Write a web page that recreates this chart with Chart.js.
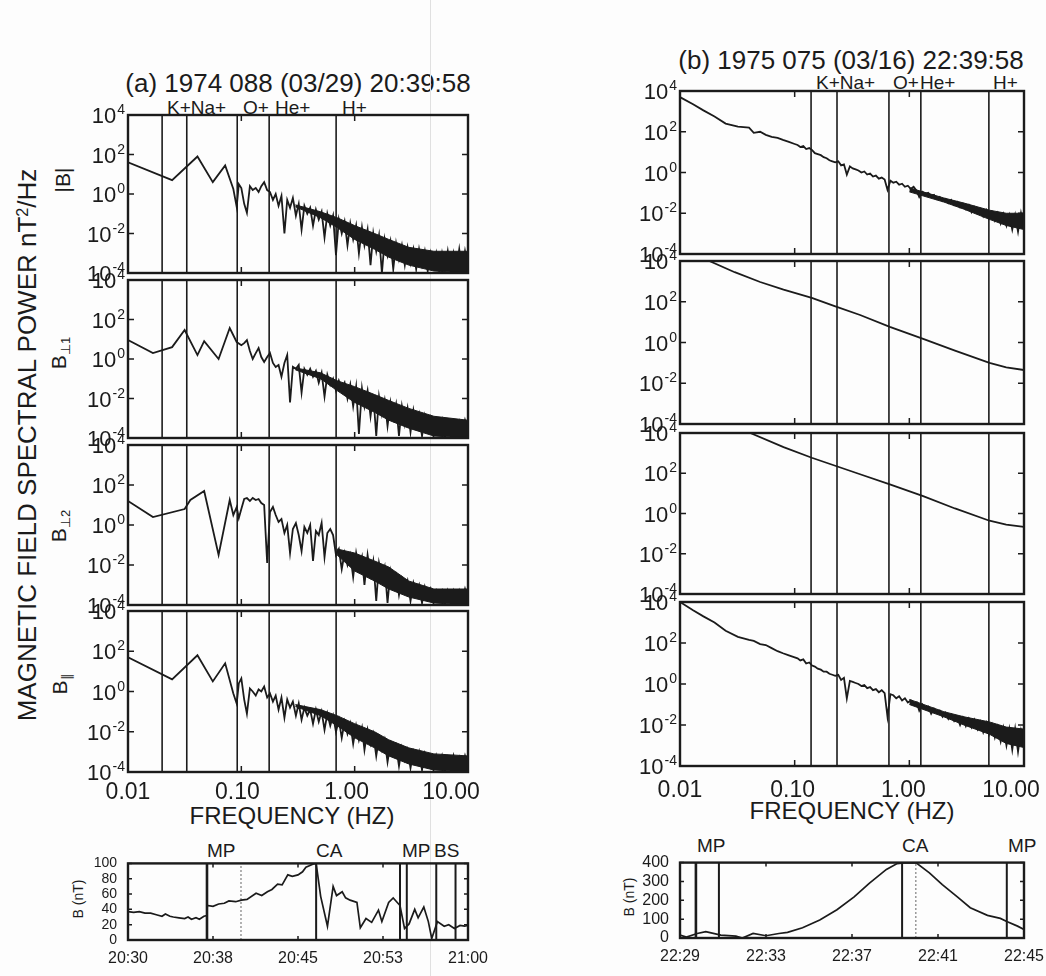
<!DOCTYPE html>
<html>
<head>
<meta charset="utf-8">
<script src="https://cdn.jsdelivr.net/npm/chart.js@4.4.0/dist/chart.umd.min.js"></script>
<style>
  body { margin: 0; width: 1046px; height: 976px; position: relative; overflow: hidden;
         background: #fdfdfd; font-family: "Liberation Sans", Arial, sans-serif; color: #1b1b1b; }
  canvas { position: absolute; }
  .t { position: absolute; white-space: nowrap; line-height: 1; transform: translate(-50%, -50%); }
  .l { position: absolute; white-space: nowrap; line-height: 1; }
  .r { position: absolute; white-space: nowrap; line-height: 1; transform: translate(-50%, -50%) rotate(-90deg); }
  .sup { font-size: 62%; vertical-align: 0.55em; }
  .sub { font-size: 62%; vertical-align: -0.25em; }
</style>
</head>
<body>

<div class="t" style="left:298px;top:83px;font-size:26px">(a) 1974 088 (03/29) 20:39:58</div>
<div class="t" style="left:851px;top:60px;font-size:26px">(b) 1975 075 (03/16) 22:39:58</div>

<div class="l" style="left:167px;top:98px;font-size:19px">K+Na+</div>
<div class="l" style="left:243px;top:98px;font-size:19px">O+</div>
<div class="l" style="left:275px;top:98px;font-size:19px">He+</div>
<div class="l" style="left:342px;top:98px;font-size:19px">H+</div>

<div class="l" style="left:816px;top:73px;font-size:19px">K+Na+</div>
<div class="l" style="left:893px;top:73px;font-size:19px">O+</div>
<div class="l" style="left:920px;top:73px;font-size:19px">He+</div>
<div class="l" style="left:993px;top:73px;font-size:19px">H+</div>

<div class="r" style="left:27px;top:445px;font-size:26px">MAGNETIC FIELD SPECTRAL POWER nT<span class="sup">2</span>/Hz</div>
<div class="r" style="left:62px;top:180px;font-size:21px">|B|</div>
<div class="r" style="left:60px;top:353px;font-size:21px">B<span class="sub">⊥1</span></div>
<div class="r" style="left:60px;top:526px;font-size:21px">B<span class="sub">⊥2</span></div>
<div class="r" style="left:61px;top:684px;font-size:21px">B<span class="sub">∥</span></div>

<div class="t" style="left:292px;top:816px;font-size:24px">FREQUENCY (HZ)</div>
<div class="t" style="left:852px;top:811px;font-size:24px">FREQUENCY (HZ)</div>

<div class="l" style="left:207px;top:841px;font-size:19px">MP</div>
<div class="l" style="left:316px;top:841px;font-size:19px">CA</div>
<div class="l" style="left:402px;top:841px;font-size:19px">MP</div>
<div class="l" style="left:434px;top:841px;font-size:19px">BS</div>
<div class="l" style="left:697px;top:836px;font-size:19px">MP</div>
<div class="l" style="left:902px;top:836px;font-size:19px">CA</div>
<div class="l" style="left:1008px;top:836px;font-size:19px">MP</div>

<div class="r" style="left:78px;top:899px;font-size:14px">B (nT)</div>
<div class="r" style="left:629px;top:897px;font-size:14px">B (nT)</div>

<div style="position:absolute;left:430px;top:0;width:1px;height:976px;background:#e0e0e0"></div>

<script>
// ---- frequency grids (Hz) ----
const HIGH_FREQ = [0.100,0.106,0.112,0.119,0.126,0.134,0.142,0.150,0.159,0.169,
  0.179,0.190,0.201,0.213,0.226,0.240,0.254,0.269,0.285,0.303,
  0.321,0.340,0.360,0.382,0.405,0.429,0.455,0.482,0.511,0.542,
  0.574,0.609,0.645,0.684,0.725,0.769,0.815,0.864,0.915,0.970,
  1.03,1.09,1.16,1.22,1.30,1.38,1.46,1.55,1.64,1.74,
  1.84,1.95,2.07,2.19,2.32,2.46,2.61,2.77,2.93,3.11,
  3.30,3.49,3.70,3.93,4.16,4.41,4.68,4.96,5.25,5.57,
  5.90,6.26,6.63,7.03,7.45,7.90,8.37,8.87,9.41,9.97];
const LEFT_LOW_FREQ = [0.010,0.0166,0.0245,0.0316,0.0355,0.041,0.047,0.056,0.063,0.072,0.079,0.085,0.091,0.095];
const RIGHT_LOW_FREQ = [0.010,0.013,0.016,0.020,0.025,0.032,0.040,0.044,0.050,0.056,0.063,0.071,0.079,0.089];

// ---- spectra, log10 of power (nT^2/Hz); low part then high part ----
const A_MAG_LOW = [1.6,null,0.7,null,null,1.9,null,0.6,null,1.45,null,0.25,-0.65,0.5];
const A_MAG_HIGH = [0.3,-0.5,-0.95,0.4,0.2,0.3,0.1,0.4,0.6,0.2,
  0.1,-0.3,0.0,-0.6,-0.1,-2.0,-0.3,-0.7,-0.2,-1.1,
  -0.5,-1.8,-0.6,-1.0,-0.7,-1.6,-0.8,-1.3,-0.9,-2.2,
  -1.0,-1.6,-1.1,-3.1,-1.3,-2.0,-1.4,-2.6,-1.5,-2.3,
  -1.6,-3.0,-1.7,-2.6,-1.8,-3.6,-2.0,-2.9,-2.1,-4.0,
  -2.3,-3.1,-2.4,-3.8,-2.5,-3.3,-2.6,-3.6,-2.7,-3.5,
  -2.8,-3.8,-2.8,-3.6,-2.9,-3.9,-3.0,-3.7,-3.0,-3.9,
  -3.0,-3.8,-2.9,-3.9,-3.0,-3.8,-2.8,-3.9,-2.9,-3.7];

const A_PERP1_LOW = [0.96,0.3,0.6,1.47,null,0.2,0.9,null,0.0,null,1.57,null,0.86,null];
const A_PERP1_HIGH = [0.7,0.8,0.96,0.4,0.0,0.3,0.56,0.1,-0.15,0.1,
  0.3,-0.2,-0.4,-0.3,-0.9,-0.2,0.2,-2.2,-0.4,-0.5,
  -0.3,-1.7,-0.5,-0.8,-0.5,-0.9,-0.6,-1.2,-0.7,-1.9,
  -0.8,-1.3,-1.0,-1.6,-1.1,-1.5,-1.2,-2.0,-1.3,-2.4,
  -1.4,-3.8,-1.5,-2.4,-1.6,-2.9,-1.8,-3.9,-1.9,-2.8,
  -2.1,-3.4,-2.2,-3.0,-2.3,-3.9,-2.4,-3.3,-2.5,-3.7,
  -2.6,-3.4,-2.8,-3.9,-2.9,-3.6,-3.0,-3.9,-3.1,-3.7,
  -3.1,-3.95,-3.2,-3.8,-3.2,-3.9,-3.2,-3.8,-3.1,-3.6];

const A_PERP2_LOW = [1.2,0.4,null,0.8,1.25,null,1.7,null,-1.5,null,1.25,0.5,0.9,0.35];
const A_PERP2_HIGH = [0.8,1.3,1.35,1.2,1.35,1.25,1.3,1.1,1.0,-1.9,
  0.65,0.9,0.5,0.15,0.3,-0.4,0.0,-1.4,-0.2,0.1,
  -0.5,-1.3,-0.1,-0.4,0.0,-1.8,-0.3,-0.5,0.1,-1.6,
  -0.4,-0.2,-0.5,-1.5,-1.2,-2.2,-1.4,-2.0,-1.5,-2.6,
  -1.4,-2.2,-1.6,-3.0,-1.5,-2.5,-1.8,-3.8,-1.9,-2.6,
  -2.1,-3.9,-2.3,-2.9,-2.5,-3.5,-2.7,-3.3,-2.8,-3.8,
  -2.9,-3.4,-3.0,-3.9,-3.1,-3.6,-3.2,-3.9,-3.3,-3.7,
  -3.3,-3.95,-3.3,-3.8,-3.3,-3.9,-3.3,-3.8,-3.2,-3.7];

const A_PAR_LOW = [1.7,null,0.6,null,null,1.8,null,0.5,null,1.4,null,-0.1,-0.6,0.4];
const A_PAR_HIGH = [0.65,-0.4,-1.1,0.15,0.0,-0.2,0.1,0.0,0.25,-0.3,
  -0.1,-0.5,-0.2,-0.9,-0.3,-1.3,-0.4,-0.8,-0.5,-1.2,
  -0.6,-1.4,-0.8,-1.2,-0.9,-1.6,-0.9,-1.5,-1.0,-1.9,
  -1.1,-1.7,-1.2,-2.0,-1.4,-2.3,-1.5,-2.1,-1.6,-2.6,
  -1.7,-2.4,-1.8,-2.9,-1.9,-2.6,-2.1,-3.2,-2.3,-2.9,
  -2.4,-3.5,-2.6,-3.1,-2.7,-3.7,-2.8,-3.4,-2.9,-3.8,
  -3.0,-3.5,-3.0,-3.9,-3.1,-3.6,-3.2,-3.9,-3.2,-3.7,
  -3.2,-3.95,-3.3,-3.8,-3.2,-3.9,-3.3,-3.8,-3.2,-3.7];

const B_MAG_LOW = [3.7,3.35,3.05,2.75,2.4,2.25,2.2,1.95,2.0,1.85,1.75,1.7,1.6,1.5];
const B_MAG_HIGH = [1.4,1.35,1.25,1.3,1.15,1.2,1.1,0.95,0.9,0.85,
  0.75,0.7,0.6,0.55,0.5,0.55,0.35,0.4,-0.1,0.3,
  0.2,0.15,0.1,0.0,0.05,-0.1,-0.05,-0.2,-0.15,-0.3,
  -0.25,-0.35,-0.85,-0.4,-0.5,-0.45,-0.6,-0.55,-0.7,-0.65,
  -0.8,-0.7,-0.9,-1.2,-0.95,-1.05,-1.0,-1.15,-1.1,-1.3,
  -1.2,-1.4,-1.3,-1.5,-1.35,-1.6,-1.45,-1.7,-1.55,-1.8,
  -1.6,-1.95,-1.7,-2.0,-1.8,-2.15,-1.85,-2.25,-1.95,-2.35,
  -2.0,-2.5,-2.05,-2.6,-2.1,-2.8,-2.1,-2.9,-2.0,-2.7];

const B_PAR_LOW = [4.0,3.6,3.3,3.0,2.6,2.3,2.15,2.1,1.95,1.9,1.75,1.6,1.5,1.4];
const B_PAR_HIGH = [1.3,1.25,1.15,1.2,1.0,1.05,0.9,0.85,0.75,0.7,
  0.6,0.6,0.5,0.45,0.4,0.45,0.2,0.3,-0.7,0.15,
  0.1,0.05,0.0,-0.1,-0.05,-0.2,-0.15,-0.3,-0.25,-0.4,
  -0.3,-0.45,-1.6,-0.5,-0.55,-0.7,-0.6,-0.8,-0.7,-0.9,
  -0.8,-1.0,-0.9,-1.3,-1.0,-1.2,-1.1,-1.45,-1.2,-1.4,
  -1.3,-1.6,-1.4,-1.7,-1.5,-1.8,-1.6,-2.0,-1.65,-2.05,
  -1.7,-2.1,-1.75,-2.2,-1.85,-2.35,-1.9,-2.45,-2.0,-2.6,
  -2.1,-2.8,-2.15,-3.0,-2.2,-3.2,-2.2,-3.3,-2.3,-3.0];

const B_PERP1_FREQ = [0.010,0.018,0.030,0.050,0.080,0.141,0.220,0.372,0.676,1.32,2.50,5.00,7.00,10.0];
const B_PERP1 = [4.6,4.0,3.45,2.97,2.6,2.19,1.8,1.35,0.77,0.18,-0.4,-1.0,-1.22,-1.35];
const B_PERP2_FREQ = [0.010,0.041,0.080,0.141,0.372,0.676,1.32,2.50,5.00,7.00,10.0];
const B_PERP2 = [5.4,4.0,3.3,2.77,1.95,1.45,0.86,0.25,-0.36,-0.55,-0.66];

// ---- dense-noise envelopes (log10), shaded solid like the scan ----
const LEFT_BAND_FREQ = [0.3, 0.5, 0.7, 1.0, 1.5, 2.0, 3.0, 5.0, 10.0];
const A_MAG_BAND_HI = [-0.55,-0.9,-1.2,-1.6,-2.0,-2.3,-2.7,-2.9,-2.9];
const A_MAG_BAND_LO = [-0.65,-1.2,-1.7,-2.3,-2.8,-3.2,-3.6,-3.9,-4.0];
const A_PERP1_BAND_HI = [-0.45,-0.7,-1.1,-1.4,-1.8,-2.1,-2.5,-2.9,-3.1];
const A_PERP1_BAND_LO = [-0.55,-1.0,-1.6,-2.2,-2.7,-3.1,-3.5,-3.9,-4.0];
const A_PERP2_BAND_HI = [null,null,-1.2,-1.4,-1.8,-2.1,-2.8,-3.2,-3.2];
const A_PERP2_BAND_LO = [null,null,-1.5,-2.3,-2.8,-3.2,-3.6,-3.9,-4.0];
const A_PAR_BAND_HI = [-0.65,-0.9,-1.2,-1.6,-2.0,-2.4,-2.8,-3.1,-3.2];
const A_PAR_BAND_LO = [-0.75,-1.2,-1.7,-2.3,-2.8,-3.2,-3.6,-3.9,-4.0];
const RIGHT_BAND_FREQ = [1.0, 2.0, 3.0, 5.0, 7.0, 10.0];
const B_MAG_BAND_HI = [-0.75,-1.25,-1.5,-1.85,-2.0,-2.0];
const B_MAG_BAND_LO = [-0.95,-1.45,-1.8,-2.3,-2.6,-2.8];
const B_PAR_BAND_HI = [-0.75,-1.35,-1.6,-1.85,-2.1,-2.2];
const B_PAR_BAND_LO = [-1.0,-1.6,-2.0,-2.45,-2.9,-3.1];

// ion gyrofrequency markers (Hz): K+, Na+, O+, He+, H+
const ION_FREQ_A = [0.020, 0.033, 0.092, 0.176, 0.686];
const ION_FREQ_B = [0.139, 0.234, 0.664, 1.26, 4.94];

const Y_TICK_EXP = [4, 2, 0, -2, -4];
const X_TICKS = [0.01, 0.1, 1, 10];
const X_TICK_LABELS = ['0.01', '0.10', '1.00', '10.00'];

// ---- |B| time series, minutes after the first tick ----
const TIME_A = [0,0.5,1,1.5,2,2.5,3,3.3,3.7,4,4.5,5,5.3,5.6,6,6.3,6.7,6.95,
  7.0,7.5,8,8.5,8.9,9.5,10,10.5,11.3,11.8,12.3,12.7,13.2,13.6,14.1,14.5,15.0,15.4,15.7,16.0,16.3,16.6,
  17.0,17.6,18.1,18.4,18.9,19.2,19.6,20.2,20.5,21.0,21.5,22.1,22.4,23.0,23.4,24.0,
  24.4,24.8,25.3,25.6,26.1,26.5,26.8,27.3,27.9,28.3,28.8,29.3,29.7,30];
const FIELD_A = [37,36,37,35,35,33,31,34,31,30,29,28,30,27,29,27,31,32,
  45,44,47,48,51,50,52,53,61,58,63,66,73,72,85,83,85,89,95,97,99,100,
  57,18,70,58,63,55,52,49,16,28,23,39,24,49,55,45,
  15,21,40,29,43,24,2,24,18,20,15,19,18,19];
const EVENTS_A = [6.97, 16.6, 24.0, 24.6, 27.2, 28.9];
const SPEC_TIME_A = 9.97;
const TIME_LABELS_A = ['20:30', '20:38', '20:45', '20:53', '21:00'];

const TIME_B = [0,0.3,0.8,1.2,1.9,2.6,2.9,3.4,4.0,4.6,5.0,5.7,6.5,7.3,8.1,8.8,9.6,10.1,10.5,11.0,11.6,12.2,12.9,13.5,14.3,14.9,15.2,15.7,16];
const FIELD_B = [15,5,24,34,15,10,0,24,12,24,30,54,96,150,218,290,364,395,400,398,346,283,218,161,120,104,88,63,45];
const EVENTS_B = [0.74, 1.81, 10.33, 15.2];
const SPEC_TIME_B = 10.97;
const TIME_LABELS_B = ['22:29', '22:33', '22:37', '22:41', '22:45'];

const INK = '#1b1b1b';
const FONT = '"Liberation Sans", Arial, sans-serif';

// border box and inward ticks on all four sides
const framePlugin = {
  id: 'frame',
  afterDraw(chart, args, opts) {
    const { ctx, chartArea: a, scales } = chart;
    const L = opts.tick || 6;
    ctx.save();
    ctx.strokeStyle = INK;
    ctx.lineWidth = 1.5;
    ctx.beginPath();
    scales.y.ticks.forEach(t => {
      const py = scales.y.getPixelForValue(t.value);
      ctx.moveTo(a.left, py); ctx.lineTo(a.left + L, py);
      ctx.moveTo(a.right, py); ctx.lineTo(a.right - L, py);
    });
    scales.x.ticks.forEach(t => {
      const px = scales.x.getPixelForValue(t.value);
      ctx.moveTo(px, a.top); ctx.lineTo(px, a.top + L);
      ctx.moveTo(px, a.bottom); ctx.lineTo(px, a.bottom - L);
    });
    ctx.stroke();
    ctx.lineWidth = 2.4;
    ctx.strokeRect(a.left, a.top, a.right - a.left, a.bottom - a.top);
    ctx.restore();
  }
};

// 10^n tick labels and the frequency labels under the last panel
const powerLabels = {
  id: 'powerLabels',
  afterDraw(chart, args, opts) {
    const { ctx, chartArea: a, scales } = chart;
    ctx.save();
    ctx.fillStyle = INK;
    ctx.textBaseline = 'alphabetic';
    Y_TICK_EXP.forEach(e => {
      const py = scales.y.getPixelForValue(Math.pow(10, e));
      const ex = e < 0 ? '-' + Math.abs(e) : String(e);
      ctx.font = '14px ' + FONT;
      const w = ctx.measureText(ex).width;
      ctx.textAlign = 'left';
      ctx.fillText(ex, a.left - 3 - w, py - 1);
      ctx.font = '22px ' + FONT;
      ctx.textAlign = 'right';
      ctx.fillText('10', a.left - 4 - w, py + 8);
    });
    if (opts.xLabels) {
      ctx.font = '23px ' + FONT;
      ctx.textAlign = 'center';
      X_TICKS.forEach((v, i) => {
        ctx.fillText(X_TICK_LABELS[i], scales.x.getPixelForValue(v) + opts.shift[i], a.bottom + opts.xOffset);
      });
    }
    ctx.restore();
  }
};

function addCanvas(box, padL, padT, padR, padB) {
  const c = document.createElement('canvas');
  c.width = box.w + padL + padR;
  c.height = box.h + padT + padB;
  c.style.left = (box.x - padL) + 'px';
  c.style.top = (box.y - padT) + 'px';
  document.body.appendChild(c);
  return c;
}

const logPts = (freqs, exps) => {
  const pts = [];
  freqs.forEach((f, i) => { if (exps[i] !== null) pts.push({ x: f, y: Math.pow(10, exps[i]) }); });
  return pts;
};

function spectrum(box, freqs, exps, ions, xOffset, band, shift) {
  const padL = 70, padT = 14, padR = xOffset ? 22 : 12, padB = xOffset ? 40 : 14;
  const canvas = addCanvas(box, padL, padT, padR, padB);
  const datasets = ions.map(f => ({
    data: [{ x: f, y: 1e-4 }, { x: f, y: 1e4 }],
    borderColor: INK, borderWidth: 1.6, pointRadius: 0
  }));
  if (band) {
    datasets.push({ data: logPts(band.freq, band.hi), borderColor: INK, borderWidth: 1,
                    backgroundColor: INK, fill: '+1', pointRadius: 0 });
    datasets.push({ data: logPts(band.freq, band.lo), borderColor: INK, borderWidth: 1,
                    pointRadius: 0, fill: false });
  }
  datasets.push({ data: logPts(freqs, exps), borderColor: INK, borderWidth: 1.8, pointRadius: 0, tension: 0, fill: false });
  new Chart(canvas, {
    type: 'line',
    data: { datasets },
    options: {
      responsive: false, animation: false, events: [],
      layout: { padding: { left: 0, top: padT, right: padR, bottom: 0 } },
      plugins: { legend: { display: false }, tooltip: { enabled: false },
                 powerLabels: { xLabels: !!xOffset, xOffset, shift: shift || [0, 0, 0, 0] } },
      scales: {
        x: { type: 'logarithmic', min: 0.01, max: 10,
             grid: { display: false }, border: { display: false }, ticks: { display: false },
             afterBuildTicks: s => { s.ticks = X_TICKS.map(v => ({ value: v })); },
             afterFit: s => { s.height = padB; } },
        y: { type: 'logarithmic', min: 1e-4, max: 1e4,
             grid: { display: false }, border: { display: false }, ticks: { display: false },
             afterBuildTicks: s => { s.ticks = Y_TICK_EXP.map(e => ({ value: Math.pow(10, e) })); },
             afterFit: s => { s.width = padL; } }
      }
    },
    plugins: [framePlugin, powerLabels]
  });
}

function timeSeries(box, times, field, events, specTime, yMax, yStep, xMax, xStep, labels, yFont) {
  const padL = 60, padT = 6, padR = 30, padB = 32;
  const canvas = addCanvas(box, padL, padT, padR, padB);
  const datasets = [{ data: times.map((t, i) => ({ x: t, y: field[i] })),
                      borderColor: INK, borderWidth: 1.7, pointRadius: 0 }];
  events.forEach((t, i) => datasets.push({
    data: [{ x: t, y: 0 }, { x: t, y: yMax }],
    borderColor: INK, borderWidth: i === 0 ? 2.6 : 2, pointRadius: 0 }));
  datasets.push({ data: [{ x: specTime, y: 0 }, { x: specTime, y: yMax }],
                  borderColor: '#666', borderWidth: 1, borderDash: [2, 2], pointRadius: 0 });
  new Chart(canvas, {
    type: 'line',
    data: { datasets },
    options: {
      responsive: false, animation: false, events: [],
      layout: { padding: { left: 0, top: padT, right: padR, bottom: 0 } },
      plugins: { legend: { display: false }, tooltip: { enabled: false }, frame: { tick: 4 } },
      scales: {
        x: { type: 'linear', min: 0, max: xMax,
             grid: { display: false }, border: { display: false },
             ticks: { stepSize: xStep, color: INK, padding: 1, maxRotation: 0, autoSkip: false,
                      font: { family: FONT, size: 16 },
                      callback: (v, i) => labels[i] },
             afterFit: s => { s.height = padB; } },
        y: { type: 'linear', min: 0, max: yMax,
             grid: { display: false }, border: { display: false },
             ticks: { stepSize: yStep, color: INK, padding: 3, autoSkip: false,
                      font: { family: FONT, size: yFont } },
             afterFit: s => { s.width = padL; } }
      }
    },
    plugins: [framePlugin]
  });
}

const leftX = 128, leftW = 340;
const leftFreq = LEFT_LOW_FREQ.concat(HIGH_FREQ);
spectrum({ x: leftX, y: 115, w: leftW, h: 158 }, leftFreq, A_MAG_LOW.concat(A_MAG_HIGH), ION_FREQ_A, 0,
         { freq: LEFT_BAND_FREQ, hi: A_MAG_BAND_HI, lo: A_MAG_BAND_LO });
spectrum({ x: leftX, y: 280, w: leftW, h: 158 }, leftFreq, A_PERP1_LOW.concat(A_PERP1_HIGH), ION_FREQ_A, 0,
         { freq: LEFT_BAND_FREQ, hi: A_PERP1_BAND_HI, lo: A_PERP1_BAND_LO });
spectrum({ x: leftX, y: 445, w: leftW, h: 160 }, leftFreq, A_PERP2_LOW.concat(A_PERP2_HIGH), ION_FREQ_A, 0,
         { freq: LEFT_BAND_FREQ, hi: A_PERP2_BAND_HI, lo: A_PERP2_BAND_LO });
spectrum({ x: leftX, y: 611, w: leftW, h: 161 }, leftFreq, A_PAR_LOW.concat(A_PAR_HIGH), ION_FREQ_A, 27,
         { freq: LEFT_BAND_FREQ, hi: A_PAR_BAND_HI, lo: A_PAR_BAND_LO }, [0, -4, -8, -17]);

const rightX = 680, rightW = 344;
const rightFreq = RIGHT_LOW_FREQ.concat(HIGH_FREQ);
spectrum({ x: rightX, y: 91, w: rightW, h: 163 }, rightFreq, B_MAG_LOW.concat(B_MAG_HIGH), ION_FREQ_B, 0,
         { freq: RIGHT_BAND_FREQ, hi: B_MAG_BAND_HI, lo: B_MAG_BAND_LO });
spectrum({ x: rightX, y: 261, w: rightW, h: 163 }, B_PERP1_FREQ, B_PERP1, ION_FREQ_B, 0, null);
spectrum({ x: rightX, y: 433, w: rightW, h: 161 }, B_PERP2_FREQ, B_PERP2, ION_FREQ_B, 0, null);
spectrum({ x: rightX, y: 602, w: rightW, h: 164 }, rightFreq, B_PAR_LOW.concat(B_PAR_HIGH), ION_FREQ_B, 31,
         { freq: RIGHT_BAND_FREQ, hi: B_PAR_BAND_HI, lo: B_PAR_BAND_LO }, [0, -2, -6, -13]);

timeSeries({ x: leftX, y: 858, w: leftW, h: 82 }, TIME_A, FIELD_A, EVENTS_A, SPEC_TIME_A, 100, 20, 30, 7.5, TIME_LABELS_A, 14);
timeSeries({ x: rightX, y: 856, w: rightW, h: 82 }, TIME_B, FIELD_B, EVENTS_B, SPEC_TIME_B, 400, 100, 16, 4, TIME_LABELS_B, 16);
</script>
</body>
</html>
